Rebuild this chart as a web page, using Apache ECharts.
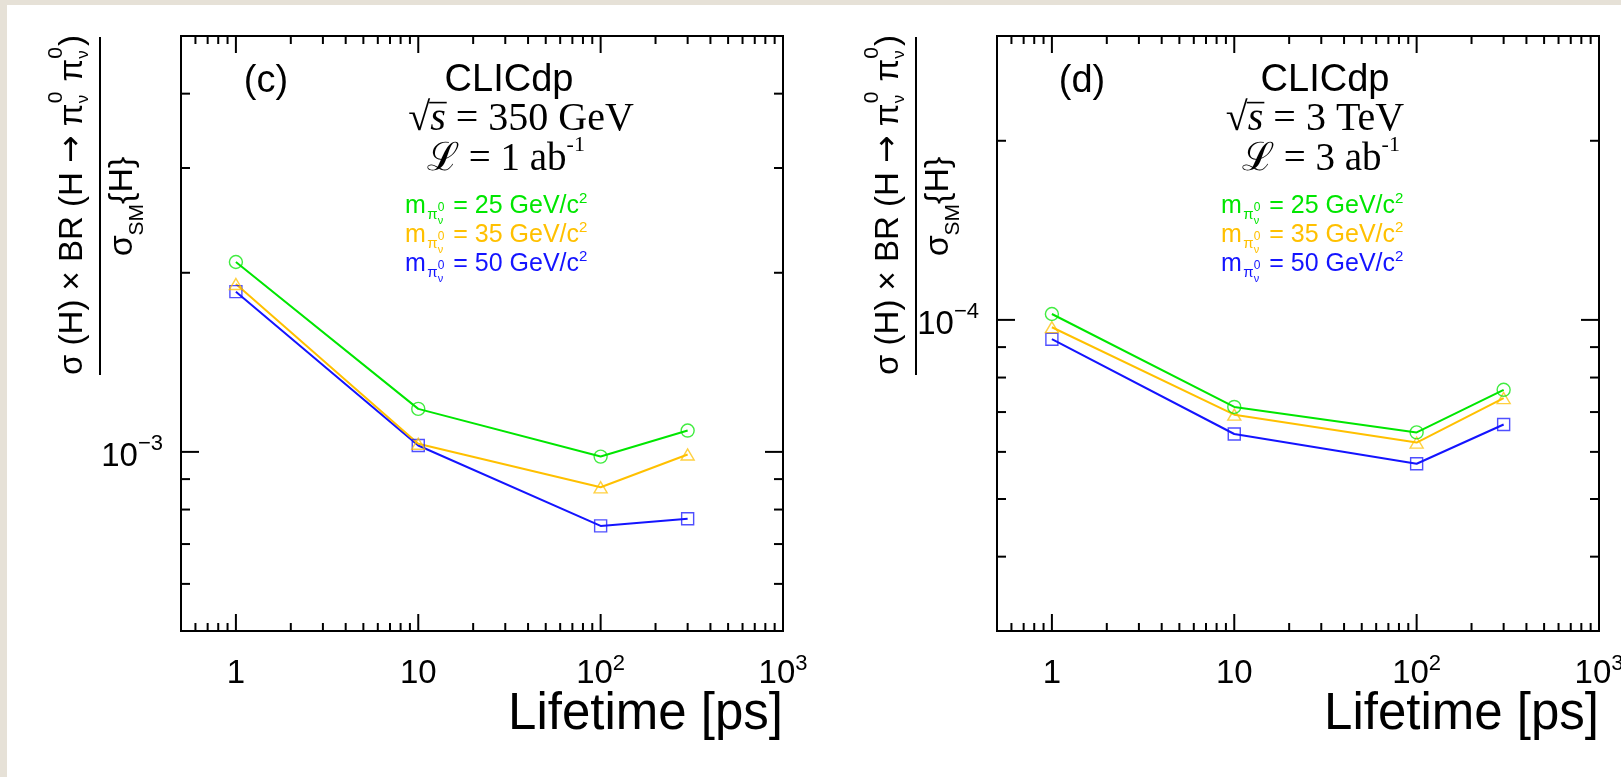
<!DOCTYPE html>
<html><head><meta charset="utf-8">
<script src="https://cdn.jsdelivr.net/npm/echarts@6/dist/echarts.min.js"></script>
<style>
html,body{margin:0;padding:0;background:#e6e1d7;overflow:hidden;}
#paper{position:absolute;left:7px;top:5px;width:1614px;height:772px;background:#fff;}
#chart{position:absolute;left:0;top:0;width:1621px;height:777px;}
</style></head><body>
<div id="paper"></div><div id="chart"></div>
<script>
// ---------------- data ----------------
const lifetimes = [1, 10, 100, 300];
// panel (c): sqrt(s) = 350 GeV
const c_m25 = [2.085e-3, 1.181e-3, 0.982e-3, 1.086e-3];
const c_m35 = [1.915e-3, 1.032e-3, 0.872e-3, 0.990e-3];
const c_m50 = [1.859e-3, 1.025e-3, 0.751e-3, 0.772e-3];
// panel (d): sqrt(s) = 3 TeV
const d_m25 = [1.023e-4, 0.714e-4, 0.647e-4, 0.763e-4];
const d_m35 = [0.972e-4, 0.693e-4, 0.622e-4, 0.739e-4];
const d_m50 = [0.928e-4, 0.643e-4, 0.573e-4, 0.667e-4];
const massLabels = ['25', '35', '50'];
// axes
const xRange = [0.5, 1000];
const yRangeC = [5e-4, 5e-3];
const yRangeD = [3e-5, 3e-4];
const xMajorTicks = [1, 10, 100, 1000];
const xTickLabels = [['1', ''], ['10', ''], ['10', '2'], ['10', '3']];
const xMinorTicks = [0.6, 0.7, 0.8, 0.9, 2, 3, 4, 5, 6, 7, 8, 9, 20, 30, 40, 50, 60, 70, 80, 90, 200, 300, 400, 500, 600, 700, 800, 900];
const yMajorC = [1e-3];
const yLabelsC = [['10', '\u22123']];
const yMinorC = [6e-4, 7e-4, 8e-4, 9e-4, 2e-3, 3e-3, 4e-3];
const yMajorD = [1e-4];
const yLabelsD = [['10', '\u22124']];
const yMinorD = [4e-5, 5e-5, 6e-5, 7e-5, 8e-5, 9e-5, 2e-4];

// ---------------- styling ----------------
const GREEN = '#00e600', ORANGE = '#ffc000', BLUE = '#1414ff';
const SANS = "'Liberation Sans', Arial, Helvetica, sans-serif";
const SERIF = "'Liberation Serif', 'DejaVu Serif', 'Times New Roman', serif";
const DJV = "'DejaVu Sans', sans-serif";
const mctx = document.createElement('canvas').getContext('2d');
function fstr(p) { return (p.italic ? 'italic ' : '') + p.fs + 'px ' + (p.family || SANS); }
// lay out a sequence of text segments on a common baseline (y = 0)
function seq(segs, align, color) {
  let x = 0; const placed = []; const lines = [];
  segs.forEach(s => {
    const arr = s.stack || [s];
    let w = 0;
    arr.forEach(a => { mctx.font = fstr(a); const aw = a.t ? mctx.measureText(a.t).width : 0; w = Math.max(w, aw); placed.push({ a, x }); });
    if (s.over) lines.push([x + (s.o0 || 0), x + w + (s.o1 || 0), -(s.oy || 0.72) * s.fs]);
    x += w + (s.gap || 0);
  });
  const off = align === 'center' ? -x / 2 : (align === 'right' ? -x : 0);
  const children = placed.filter(p => p.a.t).map(({ a, x }) => ({
    type: 'text', x: x + off, y: (a.dy || 0) - 0.345 * a.fs,
    style: { text: a.t, fontSize: a.fs, fontFamily: a.family || SANS, fontStyle: a.italic ? 'italic' : 'normal',
      fill: a.color || color || '#000', align: 'left', textAlign: 'left', verticalAlign: 'middle', textVerticalAlign: 'middle', lineHeight: a.fs }
  }));
  lines.forEach(l => children.push({ type: 'line', shape: { x1: l[0] + off, y1: l[2], x2: l[1] + off, y2: l[2] }, style: { stroke: color || '#000', lineWidth: 1.6 } }));
  return children;
}

function tickSeries(gi, yRange, yMajor, yMinor, yLabels) {
  const data = [];
  xMajorTicks.forEach((v, i) => data.push([v, yRange[0], 0, i]));
  xMinorTicks.forEach((v, i) => data.push([v, yRange[0], 1, i]));
  yMajor.forEach((v, i) => data.push([xRange[0], v, 2, i]));
  yMinor.forEach((v, i) => data.push([xRange[0], v, 3, i]));
  return {
    type: 'custom', xAxisIndex: gi, yAxisIndex: gi, data, silent: true, z: 5, clip: false, animation: false,
    renderItem(params, api) {
      const xv = api.value(0), yv = api.value(1), kind = api.value(2), idx = api.value(3);
      const ls = { stroke: '#000', lineWidth: 2 };
      const ch = [];
      if (kind < 2) {
        const len = kind === 0 ? 17 : 8;
        const pb = api.coord([xv, yRange[0]]), pt = api.coord([xv, yRange[1]]);
        ch.push({ type: 'line', shape: { x1: pb[0], y1: pb[1], x2: pb[0], y2: pb[1] - len }, style: ls });
        ch.push({ type: 'line', shape: { x1: pt[0], y1: pt[1], x2: pt[0], y2: pt[1] + len }, style: ls });
        if (kind === 0) {
          const lab = xTickLabels[idx];
          ch.push({ type: 'group', x: pb[0], y: pb[1] + 54, children: seq([{ t: lab[0], fs: 33 }, { t: lab[1], fs: 22, dy: -13 }], 'center') });
        }
      } else {
        const len = kind === 2 ? 18 : 9;
        const pl = api.coord([xRange[0], yv]), pr = api.coord([xRange[1], yv]);
        ch.push({ type: 'line', shape: { x1: pl[0], y1: pl[1], x2: pl[0] + len, y2: pl[1] }, style: ls });
        ch.push({ type: 'line', shape: { x1: pr[0], y1: pr[1], x2: pr[0] - len, y2: pr[1] }, style: ls });
        if (kind === 2) {
          const lab = yLabels[idx];
          ch.push({ type: 'group', x: pl[0] - 18, y: pl[1] + 16.6, children: seq([{ t: lab[0], fs: 33 }, { t: lab[1], fs: 22, dy: -17 }], 'right') });
        }
      }
      return { type: 'group', children: ch };
    }
  };
}

function lineSeries(gi, vals, color, symbol) {
  return {
    type: 'line', xAxisIndex: gi, yAxisIndex: gi,
    data: lifetimes.map((x, i) => [x, vals[i]]),
    symbol, symbolSize: symbol === 'triangle' ? [13, 11] : (symbol === 'rect' ? 12 : 13),
    showSymbol: true, lineStyle: { color, width: 2 },
    itemStyle: { color: 'rgba(0,0,0,0)', borderColor: color, borderWidth: 1.4, opacity: 0.75 },
    emphasis: { disabled: true }, silent: true, animation: false, clip: false
  };
}

function axisX(gi) {
  return { type: 'log', logBase: 10, gridIndex: gi, min: xRange[0], max: xRange[1],
    axisLine: { show: false }, axisTick: { show: false }, axisLabel: { show: false }, splitLine: { show: false }, minorTick: { show: false } };
}
function axisY(gi, r) {
  return { type: 'log', logBase: 10, gridIndex: gi, min: r[0], max: r[1],
    axisLine: { show: false }, axisTick: { show: false }, axisLabel: { show: false }, splitLine: { show: false }, minorTick: { show: false } };
}

// panel annotation graphics
function panelGraphics(ox, tag, energyText, energyCx, lumiText, lumiCx) {
  const g = [];
  // y-axis title (fraction)
  const st = { stack: [{ t: '0', fs: 21, dy: -21 }, { t: '\u03bd', fs: 17, dy: 5 }], gap: 1 };
  g.push({ type: 'group', x: 84 + ox, y: 205, rotation: Math.PI / 2,
    children: seq([{ t: '\u03c3 (H) \u00d7 BR (H ', fs: 33 }, { t: '\u2192', fs: 33, family: DJV }, { t: ' \u03c0', fs: 33 }, st, { t: ' \u03c0', fs: 33 }, st, { t: ')', fs: 33 }], 'center') });
  g.push({ type: 'line', shape: { x1: 100 + ox, y1: 37, x2: 100 + ox, y2: 375 }, style: { stroke: '#000', lineWidth: 2 } });
  g.push({ type: 'group', x: 134 + ox, y: 206.5, rotation: Math.PI / 2,
    children: seq([{ t: '\u03c3', fs: 34 }, { t: 'SM', fs: 21, dy: 10 }, { t: '{H}', fs: 34 }], 'center') });
  // panel tag
  g.push({ type: 'group', x: 266 + ox, y: 95, children: seq([{ t: tag, fs: 38 }], 'center') });
  g.push({ type: 'group', x: 509 + ox, y: 93.5, children: seq([{ t: 'CLICdp', fs: 38 }], 'center') });
  g.push({ type: 'group', x: energyCx, y: 133, children: seq([
    { t: '\u221a', fs: 40, family: SERIF },
    { t: 's', fs: 40, family: SERIF, italic: true, over: true, o0: -1, o1: 1, oy: 0.76 },
    { t: ' = ' + energyText, fs: 40, family: SERIF }], 'center') });
  g.push({ type: 'group', x: lumiCx, y: 173, children: seq([
    { t: '\u2112 = ' + lumiText + ' ab', fs: 39, family: SERIF },
    { t: '-1', fs: 22, family: SERIF, dy: -20 }], 'center') });
  // legend entries
  const cols = [GREEN, ORANGE, BLUE];
  massLabels.forEach((m, i) => {
    g.push({ type: 'group', x: 405 + ox, y: 215 + 29 * i, children: seq([
      { t: 'm', fs: 25, gap: 1.5 },
      { t: '\u03c0', fs: 15, dy: 5 },
      { stack: [{ t: '0', fs: 12, dy: -3 }, { t: '\u03bd', fs: 11, dy: 10 }], gap: 2 },
      { t: ' = ' + m + ' GeV/c', fs: 25 },
      { t: '2', fs: 15, dy: -11 }], 'left', cols[i]) });
  });
  // x-axis title
  g.push({ type: 'group', x: 783 + ox, y: 733, children: seq([{ t: 'Lifetime [ps]', fs: 51 }], 'right') });
  return g;
}

const OX = 816;
const option = {
  backgroundColor: 'transparent',
  animation: false,
  grid: [
    { left: 181, top: 36, width: 602, height: 595, show: true, borderColor: '#000', borderWidth: 2, backgroundColor: 'transparent', containLabel: false, outerBoundsMode: 'none' },
    { left: 997, top: 36, width: 602, height: 595, show: true, borderColor: '#000', borderWidth: 2, backgroundColor: 'transparent', containLabel: false, outerBoundsMode: 'none' }
  ],
  xAxis: [axisX(0), axisX(1)],
  yAxis: [axisY(0, yRangeC), axisY(1, yRangeD)],
  series: [
    lineSeries(0, c_m50, BLUE, 'rect'),
    lineSeries(0, c_m35, ORANGE, 'triangle'),
    lineSeries(0, c_m25, GREEN, 'circle'),
    lineSeries(1, d_m50, BLUE, 'rect'),
    lineSeries(1, d_m35, ORANGE, 'triangle'),
    lineSeries(1, d_m25, GREEN, 'circle'),
    tickSeries(0, yRangeC, yMajorC, yMinorC, yLabelsC),
    tickSeries(1, yRangeD, yMajorD, yMinorD, yLabelsD)
  ],
  graphic: [].concat(
    panelGraphics(0, '(c)', '350 GeV', 521, '1', 506),
    panelGraphics(OX, '(d)', '3 TeV', 1315, '3', 1321)
  )
};
const chart = echarts.init(document.getElementById('chart'), null, { renderer: 'canvas', width: 1621, height: 777 });
chart.setOption(option);
</script>
</body></html>
